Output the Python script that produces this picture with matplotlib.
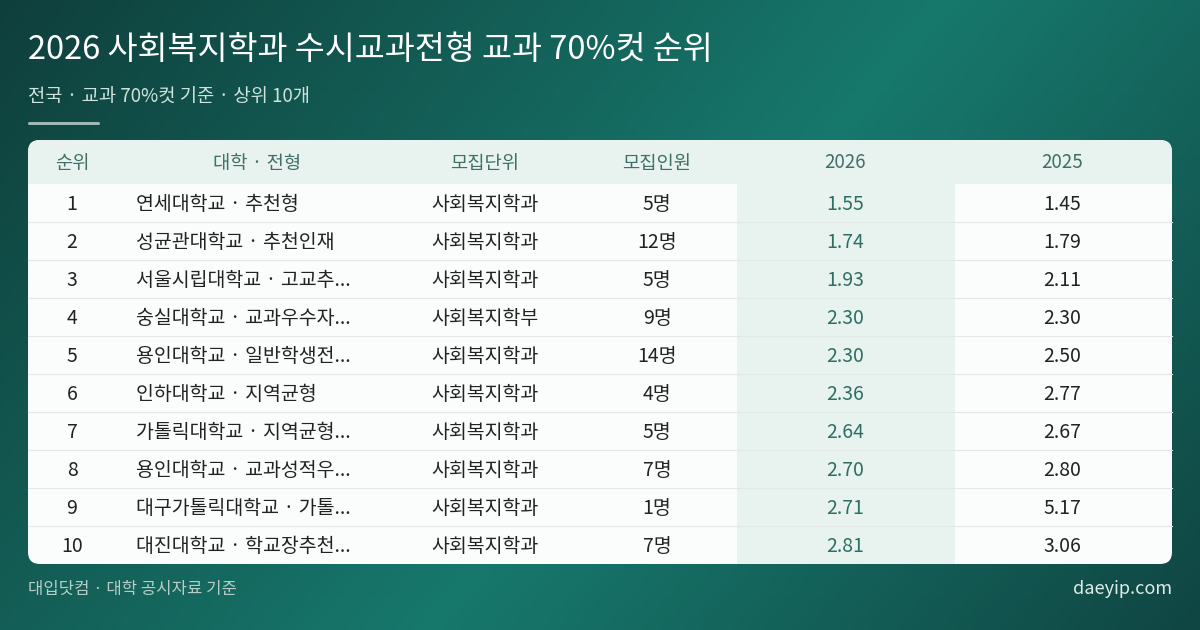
import numpy as np
import matplotlib
matplotlib.use("Agg")
import matplotlib.pyplot as plt
from matplotlib.patches import FancyBboxPatch, Rectangle

plt.rcParams['font.family'] = ['Noto Sans CJK KR', 'DejaVu Sans']

title = "2026 사회복지학과 수시교과전형 교과 70%컷 순위"
subtitle = "전국 · 교과 70%컷 기준 · 상위 10개"
headers = ["순위", "대학 · 전형", "모집단위", "모집인원", "2026", "2025"]
ranks = [1, 2, 3, 4, 5, 6, 7, 8, 9, 10]
schools = ["연세대학교 · 추천형", "성균관대학교 · 추천인재", "서울시립대학교 · 고교추...",
           "숭실대학교 · 교과우수자...", "용인대학교 · 일반학생전...", "인하대학교 · 지역균형",
           "가톨릭대학교 · 지역균형...", "용인대학교 · 교과성적우...", "대구가톨릭대학교 · 가톨...",
           "대진대학교 · 학교장추천..."]
units = ["사회복지학과"] * 3 + ["사회복지학부"] + ["사회복지학과"] * 6
quotas = [5, 12, 5, 9, 14, 4, 5, 7, 1, 7]
cut2026 = [1.55, 1.74, 1.93, 2.30, 2.30, 2.36, 2.64, 2.70, 2.71, 2.81]
cut2025 = [1.45, 1.79, 2.11, 2.30, 2.50, 2.77, 2.67, 2.80, 5.17, 3.06]

fig = plt.figure(figsize=(12, 6.3), dpi=100)
ax = fig.add_axes([0, 0, 1, 1])
ax.set_xlim(0, 1200)
ax.set_ylim(630, 0)
ax.axis('off')

# background gradient
xx, yy = np.meshgrid(np.linspace(0, 1, 300), np.linspace(0, 1, 160))
c0 = np.array([0x0f, 0x3f, 0x3c]) / 255
c1 = np.array([0x17, 0x78, 0x6c]) / 255
c2 = np.array([0x0e, 0x3a, 0x3a]) / 255
t = (xx * 0.7 + yy * 0.3)
w = np.clip(1 - np.abs(t - 0.55) / 0.55, 0, 1)[..., None]
edge = np.clip((t - 0.55) / 0.45, 0, 1)[..., None]
img = c0 * (1 - w) * (1 - edge) + c2 * (1 - w) * edge + c1 * w
ax.imshow(img, extent=[0, 1200, 630, 0], aspect='auto', zorder=0)

ax.text(28, 50, title, color='white', fontsize=23.5, va='center', ha='left')
ax.text(28, 97, subtitle, color='#cfe3de', fontsize=13.5, va='center', ha='left')
ax.add_patch(FancyBboxPatch((28, 122), 72, 3, boxstyle="round,pad=0,rounding_size=1.5",
                            fc='#9fb8b2', ec='none'))

# table panel
x0, x1, y0 = 28, 1172, 140
hh, rh = 44, 38
y1 = y0 + hh + rh * len(ranks)
ax.add_patch(FancyBboxPatch((x0, y0), x1 - x0, y1 - y0, boxstyle="round,pad=0,rounding_size=12",
                            fc='#fbfcfc', ec='none', zorder=1))
hdr = FancyBboxPatch((x0, y0), x1 - x0, y1 - y0, boxstyle="round,pad=0,rounding_size=12",
                     fc='#e8f3ef', ec='none', zorder=2)
ax.add_patch(hdr)
clip = Rectangle((x0, y0), x1 - x0, hh, transform=ax.transData)
hdr.set_clip_path(clip)
ax.add_patch(Rectangle((737, y0 + hh), 218, rh * len(ranks), fc='#e8f3ef', ec='none', zorder=2))
for i in range(1, len(ranks)):
    y = y0 + hh + i * rh
    ax.plot([x0, x1], [y, y], color='#e3e8e7', lw=0.8, zorder=3)

cols = [72, 257, 485, 657, 845, 1062]
for cx, h in zip(cols, headers):
    ax.text(cx, y0 + hh / 2 + 1, h, ha='center', va='center', fontsize=13.5, color='#3f6f67', zorder=4)

for i in range(len(ranks)):
    yc = y0 + hh + rh * i + rh / 2 + 1
    kw = dict(va='center', fontsize=14, color='#222222', zorder=4)
    ax.text(cols[0], yc, str(ranks[i]), ha='center', **kw)
    ax.text(136, yc, schools[i], ha='left', **kw)
    ax.text(cols[2], yc, units[i], ha='center', **kw)
    ax.text(cols[3], yc, f"{quotas[i]}명", ha='center', **kw)
    ax.text(cols[4], yc, f"{cut2026[i]:.2f}", ha='center', va='center', fontsize=14,
            color='#2f6f63', zorder=4)
    ax.text(cols[5], yc, f"{cut2025[i]:.2f}", ha='center', **kw)

ax.text(28, 589, "대입닷컴 · 대학 공시자료 기준", color='#b7cdc8', fontsize=12, va='center', ha='left')
ax.text(1172, 589, "daeyip.com", color='#e0ece9', fontsize=13, va='center', ha='right')

fig.savefig("out.png", dpi=100)
